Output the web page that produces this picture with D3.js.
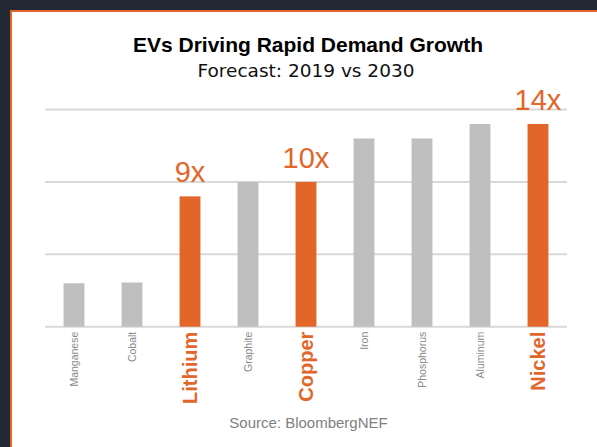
<!DOCTYPE html>
<html>
<head>
<meta charset="utf-8">
<script src="https://cdn.jsdelivr.net/npm/d3@7"></script>
<style>
html,body{margin:0;padding:0;background:#222934;overflow:hidden;}
svg{display:block;}
</style>
</head>
<body>
<svg id="chart" width="597" height="447"></svg>
<script>
// ---- data ----
const categories = ["Manganese","Cobalt","Lithium","Graphite","Copper","Iron","Phosphorus","Aluminum","Nickel"];
const growthValues = [3.0, 3.05, 9, 10, 10, 13, 13, 14, 14];
const highlighted = ["Lithium","Copper","Nickel"];
const annotationCategories = ["Lithium","Copper","Nickel"];
const annotationLabels = ["9x","10x","14x"];
const yTicks = [0, 5, 10, 15];
const titleText = "EVs Driving Rapid Demand Growth";
const subtitleText = "Forecast: 2019 vs 2030";
const sourceText = "Source: BloombergNEF";

const W = 597, H = 447;
const ORANGE = "#e2662a", GRAY = "#bfbfbf";
const svg = d3.select("#chart");

// background & card
svg.append("rect").attr("width", W).attr("height", H).attr("fill", "#222934");
svg.append("rect").attr("x", 11).attr("y", 11).attr("width", W).attr("height", H).attr("fill", "#ffffff");
svg.append("line").attr("x1", 11).attr("x2", 11).attr("y1", 10).attr("y2", H)
  .attr("stroke", ORANGE).attr("stroke-width", 2);
svg.append("line").attr("x1", 10).attr("x2", W).attr("y1", 11).attr("y2", 11)
  .attr("stroke", ORANGE).attr("stroke-width", 2);

// scales
const x = d3.scaleBand().domain(categories).range([45, 567]).paddingInner(0.64).paddingOuter(0.32);
const y = d3.scaleLinear().domain([0, 15]).range([326.7, 109.5]);

// titles
svg.append("text").attr("x", 308).attr("y", 51.7).attr("text-anchor", "middle")
  .attr("font-family", "'Liberation Sans', Arial, sans-serif").attr("font-weight", "bold")
  .attr("font-size", 21).attr("fill", "#000").text(titleText);
svg.append("text").attr("x", 306).attr("y", 76.7).attr("text-anchor", "middle")
  .attr("font-family", "'DejaVu Sans', sans-serif")
  .attr("font-size", 18.5).attr("fill", "#111").text(subtitleText);

// gridlines
svg.append("g").selectAll("line").data(yTicks).join("line")
  .attr("x1", 45).attr("x2", 567)
  .attr("y1", d => y(d)).attr("y2", d => y(d))
  .attr("stroke", "#d9d9d9").attr("stroke-width", 2);

// bars
const data = categories.map((c, i) => ({cat: c, value: growthValues[i], hi: highlighted.includes(c)}));
svg.append("g").selectAll("rect").data(data).join("rect")
  .attr("x", d => x(d.cat))
  .attr("width", x.bandwidth())
  .attr("y", d => y(d.value))
  .attr("height", d => y(0) - y(d.value))
  .attr("fill", d => d.hi ? ORANGE : GRAY);

// annotations
svg.append("g").selectAll("text").data(annotationCategories).join("text")
  .attr("x", d => x(d) + x.bandwidth() / 2)
  .attr("y", d => y(growthValues[categories.indexOf(d)]) - 14)
  .attr("text-anchor", "middle")
  .attr("font-family", "'Liberation Sans', Arial, sans-serif")
  .attr("font-size", 29).attr("fill", ORANGE)
  .text((d, i) => annotationLabels[i]);

// x axis labels (rotated)
const xAxis = d3.axisBottom(x).tickSize(0).tickPadding(0);
const gx = svg.append("g").attr("transform", `translate(0,${y(0)})`).call(xAxis);
gx.select(".domain").remove();
gx.selectAll(".tick text")
  .attr("transform", "rotate(-90)")
  .attr("x", -5).attr("y", 0).attr("dy", "0.35em")
  .attr("text-anchor", "end")
  .attr("font-family", "'Liberation Sans', Arial, sans-serif")
  .attr("font-size", d => highlighted.includes(d) ? 20 : 10.5)
  .attr("font-weight", d => highlighted.includes(d) ? "bold" : "normal")
  .attr("fill", d => highlighted.includes(d) ? ORANGE : "#8a8a8a");

// source
svg.append("text").attr("x", 308.5).attr("y", 427.7).attr("text-anchor", "middle")
  .attr("font-family", "'Liberation Sans', Arial, sans-serif")
  .attr("font-size", 15).attr("fill", "#7f7f7f").text(sourceText);
</script>
</body>
</html>
